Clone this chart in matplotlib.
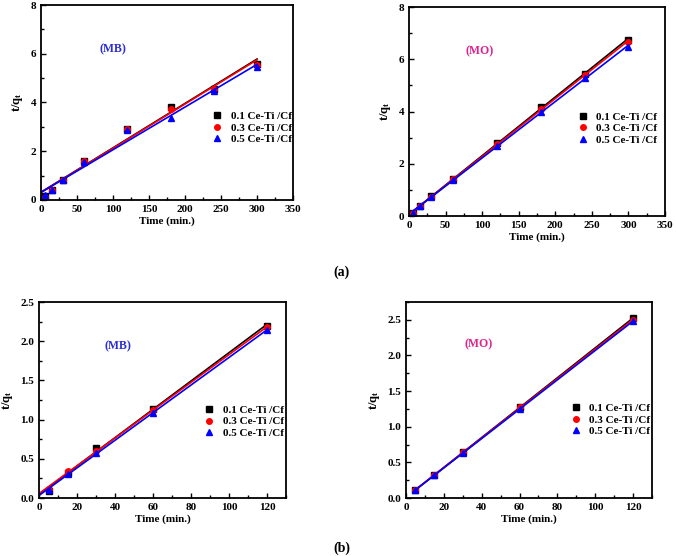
import numpy as np
import matplotlib.pyplot as plt
from matplotlib.ticker import MultipleLocator

plt.rcParams['font.family'] = ['Liberation Serif', 'DejaVu Serif']
plt.rcParams['font.weight'] = 'bold'
plt.rcParams['mathtext.fontset'] = 'custom'
plt.rcParams['mathtext.rm'] = 'Liberation Serif:bold'
plt.rcParams['mathtext.it'] = 'Liberation Serif:bold'

labels = ['0.1 Ce-Ti /Cf', '0.3 Ce-Ti /Cf', '0.5 Ce-Ti /Cf']
colors = ['black', 'red', 'blue']
markers = ['s', 'o', '^']

# (a) time points
time_a = [5, 15, 30, 60, 120, 180, 240, 300]
mb_a = [
    [0.15, 0.42, 0.82, 1.62, 2.90, 3.82, 4.55, 5.58],
    [0.13, 0.42, 0.82, 1.60, 2.90, 3.75, 4.55, 5.55],
    [0.20, 0.42, 0.80, 1.55, 2.88, 3.35, 4.48, 5.45],
]
mo_a = [
    [0.13, 0.38, 0.75, 1.42, 2.78, 4.17, 5.45, 6.75],
    [0.12, 0.37, 0.73, 1.40, 2.77, 4.10, 5.40, 6.65],
    [0.12, 0.37, 0.73, 1.37, 2.68, 4.00, 5.30, 6.45],
]

# (b) time points
time_b = [5, 15, 30, 60, 120]
mb_b = [
    [0.09, 0.32, 0.64, 1.14, 2.20],
    [0.12, 0.34, 0.60, 1.12, 2.18],
    [0.10, 0.30, 0.58, 1.09, 2.14],
]
mo_b = [
    [0.11, 0.32, 0.64, 1.28, 2.52],
    [0.11, 0.32, 0.64, 1.27, 2.50],
    [0.11, 0.32, 0.63, 1.25, 2.48],
]

fig = plt.figure(figsize=(6.76, 5.56), dpi=100)


def draw_panel(rect, x, series, xlim, ylim, xmaj, xmin, ymaj, ymin, tag, tag_color, tag_xy, line_x0, leg_xy):
    ax = fig.add_axes(rect)
    x = np.array(x, dtype=float)
    for y, c, m, lab in zip(series, colors, markers, labels):
        y = np.array(y)
        k, b = np.polyfit(x, y, 1)
        xs = np.array([line_x0, x[-1]])
        ax.plot(xs, k * xs + b, '-', color=c, lw=1.2)
        ax.plot(x, y, m, color=c, ms=4, label=lab, ls='none')
    ax.set_xlim(*xlim)
    ax.set_ylim(*ylim)
    ax.xaxis.set_major_locator(MultipleLocator(xmaj))
    ax.xaxis.set_minor_locator(MultipleLocator(xmin))
    ax.yaxis.set_major_locator(MultipleLocator(ymaj))
    ax.yaxis.set_minor_locator(MultipleLocator(ymin))
    ax.tick_params(which='both', direction='in', labelsize=8, width=1)
    ax.tick_params(which='major', length=3.5)
    ax.tick_params(which='minor', length=2)
    for s in ax.spines.values():
        s.set_linewidth(1.3)
    ax.set_xlabel('Time (min.)', fontsize=8, fontweight='bold', labelpad=2)
    ax.set_ylabel(r'$\mathrm{t/q_t}$', fontsize=9, labelpad=4)
    ax.text(tag_xy[0], tag_xy[1], tag, color=tag_color, fontsize=8.5,
            fontweight='bold', ha='center', va='center')
    ax.legend(loc='center left', bbox_to_anchor=leg_xy, frameon=False,
              fontsize=8, handlelength=1.2, handletextpad=0.6, labelspacing=0.15,
              borderaxespad=0)
    return ax


draw_panel([0.0607, 0.6403, 0.3728, 0.3507], time_a, mb_a, (0, 350), (0, 8),
           50, 25, 2, 1, '(MB)', '#2b2bd8', (100, 6.2), 0, (0.656, 0.37))
draw_panel([0.605, 0.6115, 0.3787, 0.3759], time_a, mo_a, (0, 350), (0, 8),
           50, 25, 2, 1, '(MO)', '#e0218a', (97, 6.3), 5, (0.637, 0.42))
draw_panel([0.0577, 0.1043, 0.3654, 0.3525], time_b, mb_b, (0, 130), (0, 2.5),
           20, 10, 0.5, 0.25, '(MB)', '#2b2bd8', (41.6, 1.94), 0, (0.645, 0.39))
draw_panel([0.6006, 0.1043, 0.3639, 0.3525], time_b, mo_b, (0, 130), (0, 2.75),
           20, 10, 0.5, 0.25, '(MO)', '#e0218a', (38.6, 2.15), 5, (0.645, 0.40))

fig.text(342 / 676, 1 - 272 / 556, '(a)', fontsize=10, fontweight='bold', ha='center', va='center')
fig.text(342 / 676, 1 - 548 / 556, '(b)', fontsize=10, fontweight='bold', ha='center', va='center')

fig.savefig('out.png', dpi=100)
